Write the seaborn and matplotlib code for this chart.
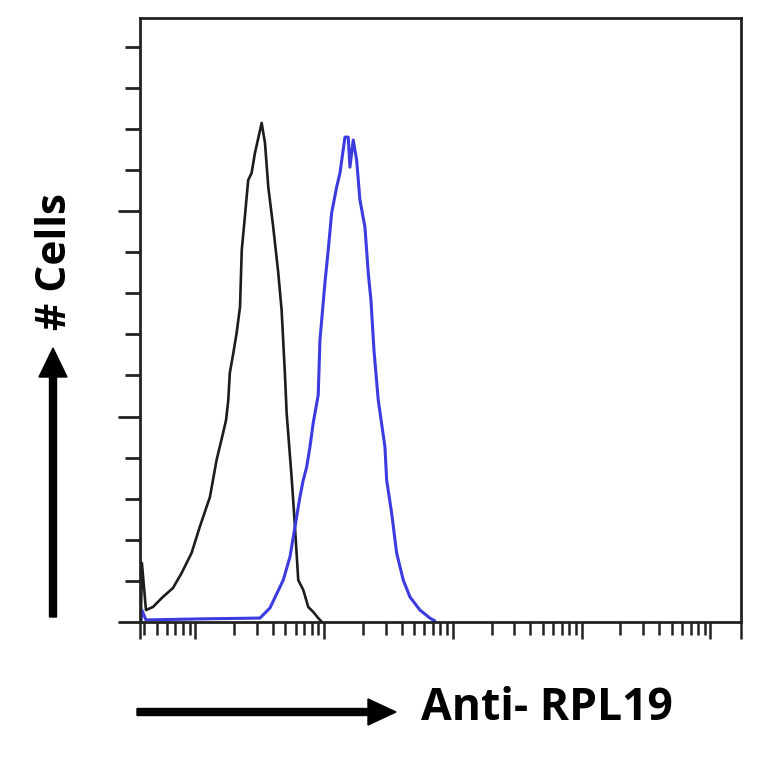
import numpy as np
import pandas as pd
import seaborn as sns
import matplotlib
matplotlib.use("Agg")
import matplotlib.pyplot as plt
from matplotlib.patches import FancyArrow
from matplotlib.ticker import FixedLocator, LogLocator, MultipleLocator, NullFormatter

# Isotype control (black) histogram: fluorescence intensity vs # cells
control_x = [3.77, 3.84, 4.13, 4.68, 5.59, 6.69, 7.81, 9.34, 10.8, 12.96,
             14.6, 16.4, 17.3, 18.0, 18.5, 19.7, 20.9, 22.2, 22.9, 24.2,
             25.7, 27.3, 29.0, 32.7, 34.7, 36.8, 40.2, 44.0, 46.7, 49.6,
             51.1, 55.9, 58.7, 62.9, 68.8, 75.2, 82.2, 89.9, 96.0]
control_y = [0, 28.7, 5.8, 7.3, 12.2, 16.5, 23.8, 33.6, 46.2, 60.8,
             78.8, 92, 98.3, 108, 121.2, 130.9, 140.7, 153.3, 181, 197.1,
             215.1, 218.5, 228.3, 242.9, 233.1, 211.7, 192.2, 169.9, 151.9, 120.2,
             101.7, 70.1, 50.6, 20.4, 15.6, 7.3, 4.9, 1.9, 0]

# Anti-RPL19 stained (blue) histogram
stained_x = [3.77, 3.84, 4.13, 10.8, 31.7, 37.9, 48.1, 54.2, 59.3, 64.8,
             68.8, 73.1, 77.5, 82.2, 89.9, 92.7, 101.3, 107.5, 114.3, 125,
             132.6, 145, 153.8, 158.5, 168.1, 178.6, 189.5, 207.3, 219.9, 230.7,
             243.5, 262.9, 296.4, 305.5, 334.1, 365.3, 411.1, 463.4, 554.2, 662.7,
             724.8]
stained_y = [0, 5.8, 1, 1.5, 1.9, 6.8, 20.4, 31.6, 46.2, 60.8,
             69.1, 75.4, 85.2, 96.9, 110.5, 137.2, 165, 181, 199.1, 211.7,
             218.5, 236, 236, 221.4, 234.6, 224.9, 205.4, 192.2, 169.9, 156.7,
             132.4, 108, 85.2, 69.1, 53, 33.6, 20.4, 12.2, 5.8, 1.9,
             0.5]

x_limits = (3.71, 172600)
y_limits = (0, 294)
x_label = "Anti- RPL19"
y_label = "# Cells"

sns.set_theme(style="ticks")
plt.rcParams['font.family'] = ['Open Sans', 'DejaVu Sans']

fig = plt.figure(figsize=(7.64, 7.64), dpi=100)
ax = fig.add_axes([0.1832, 0.1859, 0.7867, 0.7906])
ax.set_xscale('log')

control = pd.DataFrame({'x': control_x, 'y': control_y})
stained = pd.DataFrame({'x': stained_x, 'y': stained_y})
sns.lineplot(data=control, x='x', y='y', sort=False, estimator=None,
             color='#1c1c1c', linewidth=1.9, ax=ax)
sns.lineplot(data=stained, x='x', y='y', sort=False, estimator=None,
             color='#3b3be0', linewidth=2.2, ax=ax)

ax.set_xlim(*x_limits)
ax.set_ylim(*y_limits)

# axis ticks, no labels
ax.xaxis.set_major_locator(FixedLocator([x_limits[0], 10, 100, 1000, 1e4, 1e5, x_limits[1]]))
ax.xaxis.set_minor_locator(LogLocator(base=10, subs=np.arange(2, 10), numticks=20))
ax.yaxis.set_major_locator(MultipleLocator(100))
ax.yaxis.set_minor_locator(MultipleLocator(20))
ax.xaxis.set_major_formatter(NullFormatter())
ax.xaxis.set_minor_formatter(NullFormatter())
ax.yaxis.set_major_formatter(NullFormatter())
ax.tick_params(axis='x', which='major', direction='out', length=12, width=1.8, color='#222222')
ax.tick_params(axis='x', which='minor', direction='out', length=9, width=1.8, color='#222222')
ax.tick_params(axis='y', which='major', direction='out', length=16, width=2.0, color='#222222')
ax.tick_params(axis='y', which='minor', direction='out', length=11, width=2.0, color='#222222')
for side in ['left', 'right', 'top', 'bottom']:
    ax.spines[side].set_visible(True)
    ax.spines[side].set_linewidth(2.0)
    ax.spines[side].set_color('#222222')
ax.set_xlabel('')
ax.set_ylabel('')

# arrows and axis titles outside the frame
fig.add_artist(FancyArrow(137 / 764, 52 / 764, 259 / 764, 0, width=7 / 764,
                          head_width=26 / 764, head_length=28 / 764,
                          length_includes_head=True, color='black',
                          transform=fig.transFigure))
fig.add_artist(FancyArrow(53 / 764, 147 / 764, 0, 269 / 764, width=7 / 764,
                          head_width=28 / 764, head_length=29 / 764,
                          length_includes_head=True, color='black',
                          transform=fig.transFigure))
fig.text(547 / 764, 56 / 764, x_label, fontsize=32, fontweight='bold',
         ha='center', va='center', color='black')
fig.text(55 / 764, 502 / 764, y_label, fontsize=30.5, fontweight='bold',
         rotation=90, ha='center', va='center', color='black')

fig.savefig('out.png', dpi=100, facecolor='white')
